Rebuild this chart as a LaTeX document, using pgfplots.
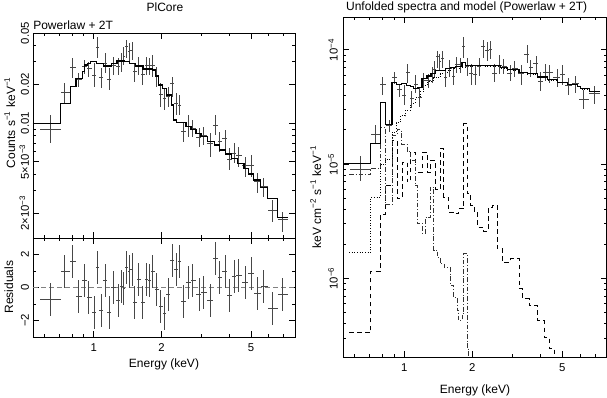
\documentclass[border=0pt]{standalone}
\usepackage{fontspec}
\setmainfont{Liberation Sans}
\usepackage{pgfplots}
\usepackage{pgfplotstable}
\pgfplotsset{compat=1.18}

\newcommand\lbl{\fontsize{9}{11}\selectfont}
\newcommand\tkl{\fontsize{8.5}{10}\selectfont}

% E Elo Ehi : energy bins; C : counts/s/keV; R : residual; F : unfolded flux
\pgfplotstableread{
E     Elo   Ehi   C       Clo     Chi     R      F        Flo      Fhi
0.639 0.577 0.712 0.00893 0.00704 0.01154 -0.71  9.05e-6  7.14e-6  1.170e-5
0.744 0.712 0.783 0.01720 0.01421 0.02056  1.00  1.826e-5 1.509e-5 2.18e-5
0.802 0.783 0.830 0.02705 0.02222 0.03177  1.55  4.93e-5  4.05e-5  5.79e-5
0.858 0.830 0.882 0.02196 0.01915 0.02430 -0.55  2.20e-5  1.92e-5  2.43e-5
0.906 0.882 0.928 0.02771 0.02402 0.03084  0.43  5.77e-5  5.00e-5  6.43e-5
0.950 0.928 0.976 0.02658 0.02289 0.02994 -0.59  4.50e-5  3.88e-5  5.07e-5
1.003 0.976 1.021 0.02345 0.01915 0.02906 -1.53  4.00e-5  3.27e-5  4.96e-5
1.038 1.021 1.056 0.03868 0.03177 0.04626  1.24  6.30e-5  5.18e-5  7.54e-5
1.078 1.056 1.100 0.02262 0.01859 0.02658 -1.41  3.75e-5  3.08e-5  4.40e-5
1.126 1.100 1.149 0.02906 0.02430 0.03474  0.43  5.00e-5  4.18e-5  5.97e-5
1.173 1.149 1.197 0.02183 0.01804 0.02658 -1.51  3.80e-5  3.14e-5  4.63e-5
1.222 1.197 1.251 0.02804 0.02359 0.03273  0.02  5.40e-5  4.55e-5  6.31e-5
1.286 1.251 1.308 0.02771 0.02359 0.03177 -0.76  5.40e-5  4.60e-5  6.19e-5
1.330 1.308 1.344 0.02994 0.02503 0.03474  0.06  6.12e-5  5.12e-5  7.10e-5
1.358 1.344 1.381 0.03313 0.02820 0.03914 -0.04  6.78e-5  5.77e-5  8.01e-5
1.404 1.381 1.419 0.03962 0.03177 0.04410  1.24  8.73e-5  7.00e-5  9.72e-5
1.434 1.419 1.453 0.03579 0.02994 0.04155  0.98  7.90e-5  6.60e-5  9.16e-5
1.478 1.453 1.498 0.03688 0.03084 0.04280  1.08  8.37e-5  7.00e-5  9.73e-5
1.519 1.498 1.550 0.02518 0.02094 0.02906 -0.92  5.72e-5  4.75e-5  6.60e-5
1.587 1.550 1.620 0.02804 0.02359 0.03273  0.51  6.93e-5  5.83e-5  8.10e-5
1.653 1.620 1.682 0.02373 0.01972 0.02738 -0.92  5.88e-5  4.89e-5  6.79e-5
1.710 1.682 1.740 0.02804 0.02359 0.03273  0.47  7.45e-5  6.27e-5  8.70e-5
1.769 1.740 1.800 0.02804 0.02359 0.03177  0.43  7.45e-5  6.27e-5  8.45e-5
1.824 1.800 1.862 0.02804 0.02289 0.03373  0.98  1.06e-4  8.50e-5  1.29e-4
1.894 1.862 1.940 0.02317 0.01915 0.02738 -0.14  7.17e-5  5.92e-5  8.47e-5
1.986 1.940 2.020 0.01670 0.01339 0.02032 -1.16  6.19e-5  4.97e-5  7.54e-5
2.055 2.020 2.097 0.01554 0.01261 0.01859 -1.57  6.12e-5  4.97e-5  7.32e-5
2.140 2.097 2.184 0.01611 0.01339 0.01915 -0.43  7.14e-5  5.94e-5  8.50e-5
2.229 2.184 2.275 0.02032 0.01601 0.02289  1.63  1.079e-4 8.50e-5  1.215e-4
2.322 2.275 2.362 0.01421 0.01154 0.01700  1.12  9.86e-5  8.00e-5  1.179e-4
2.402 2.362 2.451 0.01371 0.01154 0.01650  1.55  9.98e-5  8.40e-5  1.200e-4
2.502 2.451 2.570 0.00856 0.00716 0.01024 -0.86  6.23e-5  5.21e-5  7.45e-5
2.641 2.570 2.696 0.00937 0.00783 0.01154  0.33  7.32e-5  6.12e-5  9.02e-5
2.752 2.696 2.847 0.00909 0.00783 0.01055  0.43  7.11e-5  6.12e-5  8.25e-5
2.944 2.847 3.005 0.00769 0.00655 0.00909 -0.45  6.21e-5  5.29e-5  7.33e-5
3.077 3.005 3.184 0.00807 0.00675 0.00937 -0.31  6.91e-5  5.78e-5  8.03e-5
3.305 3.184 3.396 0.00695 0.00548 0.00831 -0.80  6.20e-5  4.89e-5  7.42e-5
3.490 3.396 3.549 0.00965 0.00807 0.01154  1.73  9.14e-5  7.64e-5  1.093e-4
3.610 3.549 3.722 0.00725 0.00599 0.00856  0.63  6.97e-5  5.83e-5  8.09e-5
3.838 3.722 3.917 0.00760 0.00617 0.00882  0.98  7.63e-5  6.19e-5  8.85e-5
3.998 3.917 4.108 0.00522 0.00432 0.00636 -0.47  5.25e-5  4.34e-5  6.39e-5
4.221 4.108 4.308 0.00581 0.00486 0.00695  0.67  6.32e-5  5.29e-5  7.55e-5
4.397 4.308 4.564 0.00564 0.00458 0.00655  0.71  6.36e-5  5.16e-5  7.38e-5
4.737 4.564 4.867 0.00466 0.00383 0.00548  0.31  5.75e-5  4.72e-5  6.75e-5
5.001 4.867 5.157 0.00466 0.00383 0.00564  0.84  6.06e-5  4.97e-5  7.33e-5
5.335 5.157 5.519 0.00350 0.00284 0.00407 -0.35  4.85e-5  4.05e-5  5.62e-5
5.710 5.519 5.948 0.00320 0.00268 0.00372  0.06  5.05e-5  4.22e-5  5.86e-5
6.216 5.948 6.563 0.00209 0.00171 0.00252 -1.27  3.67e-5  3.01e-5  4.44e-5
6.930 6.563 7.317 0.00177 0.00143 0.00205 -0.41  4.13e-5  3.35e-5  4.79e-5
}\specdata

% folded model (left), bin start / value
\pgfplotstableread{
E     M
0.536 0.00994
0.712 0.01421
0.789 0.01915
0.833 0.02222
0.888 0.02503
0.912 0.02820
0.934 0.02906
0.967 0.02994
1.028 0.02906
1.100 0.02771
1.197 0.02906
1.268 0.03030
1.371 0.02994
1.443 0.02906
1.534 0.02771
1.653 0.02626
1.830 0.02579
1.880 0.02317
1.932 0.01972
2.013 0.01859
2.097 0.01650
2.207 0.01380
2.259 0.01055
2.337 0.01006
2.570 0.00937
2.705 0.00893
2.847 0.00831
2.995 0.00783
3.206 0.00716
3.431 0.00675
3.610 0.00617
3.864 0.00575
4.108 0.00532
4.351 0.00486
4.658 0.00445
4.867 0.00402
5.121 0.00361
5.519 0.00317
5.907 0.00260
6.541 0.00185
7.317 0.00185
}\foldmodel

% unfolded total model
\pgfplotstableread{
E     M
0.536 1.008e-5
0.712 1.509e-5
0.783 3.49e-5
0.824 2.227e-5
0.882 5.22e-5
0.922 4.95e-5
0.976 5.10e-5
1.021 4.85e-5
1.063 4.75e-5
1.100 4.60e-5
1.149 4.65e-5
1.198 5.60e-5
1.261 5.90e-5
1.313 6.20e-5
1.372 6.60e-5
1.453 6.60e-5
1.520 6.90e-5
1.600 7.05e-5
1.684 7.20e-5
1.800 7.80e-5
1.862 7.30e-5
1.962 7.32e-5
2.666 6.98e-5
2.854 6.71e-5
3.213 6.39e-5
3.500 6.19e-5
3.877 5.78e-5
4.295 5.48e-5
4.756 5.22e-5
5.267 4.99e-5
5.834 4.79e-5
6.033 4.57e-5
6.566 4.33e-5
7.317 4.33e-5
}\ufmodel

% powerlaw component
\pgfplotstableread{
E     M
0.570 1.69e-6
0.712 5.14e-6
0.783 1.0e-5
0.824 1.1e-5
0.882 1.90e-5
0.922 2.30e-5
0.960 2.65e-5
1.010 2.95e-5
1.063 3.40e-5
1.119 3.80e-5
1.178 4.30e-5
1.218 4.90e-5
1.261 5.30e-5
1.349 5.70e-5
1.444 6.20e-5
1.546 6.55e-5
1.654 6.84e-5
1.771 7.07e-5
1.897 7.17e-5
2.029 7.27e-5
2.240 7.20e-5
2.666 6.90e-5
2.854 6.65e-5
3.213 6.33e-5
3.500 6.14e-5
3.877 5.74e-5
4.295 5.44e-5
4.756 5.19e-5
5.267 4.97e-5
5.834 4.77e-5
6.033 4.55e-5
6.566 4.31e-5
7.317 4.31e-5
}\plcomp

% hot thermal component
\pgfplotstableread{
E     M
0.570 3.36e-7
0.712 1.156e-6
0.783 3.63e-6
0.824 6.5e-6
0.882 1.60e-5
0.930 5.0e-6
0.980 1.04e-5
1.028 7.0e-6
1.063 1.274e-5
1.119 8.51e-6
1.198 1.274e-5
1.261 8.51e-6
1.304 1.077e-5
1.372 6.0e-6
1.444 1.364e-5
1.494 5.14e-6
1.570 3.80e-6
1.654 3.70e-6
1.741 4.07e-6
1.832 2.258e-5
1.897 5.51e-6
1.960 4.35e-6
2.040 3.80e-6
2.101 2.81e-6
2.247 2.60e-6
2.365 4.20e-6
2.448 4.35e-6
2.577 1.816e-6
2.713 1.386e-6
2.952 1.485e-6
3.213 8.11e-7
3.327 6.63e-7
3.558 5.79e-7
3.877 4.28e-7
4.148 3.06e-7
4.364 2.42e-7
4.593 1.56e-7
4.918 1.56e-7
}\hotcomp

% cool thermal component
\pgfplotstableread{
E     M
0.570 8.13e-6
0.712 9.17e-6
0.783 2.1e-5
0.824 4.4e-6
0.882 1.80e-5
0.928 2.0e-5
0.970 1.5e-5
1.028 1.3e-5
1.063 1.077e-5
1.119 6.51e-6
1.140 3.05e-6
1.198 2.50e-6
1.240 3.40e-6
1.300 6.30e-6
1.349 1.77e-6
1.400 1.53e-6
1.444 1.34e-6
1.500 1.25e-6
1.600 8.67e-7
1.654 6.80e-7
1.713 5.24e-7
1.741 4.28e-7
1.803 4.93e-7
1.832 1.652e-6
1.897 2.48e-7
1.928 1.56e-7
1.982 1.56e-7
}\coolcomp

\begin{document}
\begin{tikzpicture}
% left: folded spectrum
\begin{loglogaxis}[
  scale only axis,
  at={(24.75pt,-24.75pt)}, anchor=north west,
  width=196.5pt, height=153.75pt,
  xmin=0.536, xmax=7.85, ymin=0.00128, ymax=0.05,
  tick align=inside, major tick length=4.5pt, minor tick length=2.3pt,
  axis line style={line width=0.7pt},
  every tick/.append style={black, line width=0.6pt},
  xtick={1,2,5}, minor xtick={0.6,0.7,0.8,0.9,3,4,6,7},
  xticklabels={},
  ytick={0.002,0.005,0.01,0.02,0.05},
  yticklabels={2×10\textsuperscript{−3},5×10\textsuperscript{−3},0.01,0.02,0.05},
  minor ytick={0.003,0.004,0.006,0.007,0.008,0.009,0.03,0.04},
  tick label style={font=\tkl},
  yticklabel style={xshift=-3pt, rotate=90, anchor=base},
]
\addplot[only marks, mark=*, mark size=0pt, mark options={draw opacity=0, fill opacity=0},
  error bars/x dir=both, error bars/x explicit,
  error bars/y dir=both, error bars/y explicit,
  error bars/error mark=none,
  error bars/error bar style={black!72, line width=0.75pt}]
  table[x=E, y=C,
  x error plus expr=\thisrow{Ehi}-\thisrow{E},
  x error minus expr=\thisrow{E}-\thisrow{Elo},
  y error plus expr=\thisrow{Chi}-\thisrow{C},
  y error minus expr=\thisrow{C}-\thisrow{Clo}] {\specdata};
\addplot[const plot, black, line width=0.9pt] table[x=E, y=M] {\foldmodel};
\end{loglogaxis}

% left: residuals
\begin{semilogxaxis}[
  scale only axis,
  at={(24.75pt,-178.5pt)}, anchor=north west,
  width=196.5pt, height=74.25pt,
  xmin=0.536, xmax=7.85, ymin=-3, ymax=3,
  tick align=inside, major tick length=4.5pt, minor tick length=2.3pt,
  axis line style={line width=0.7pt},
  every tick/.append style={black, line width=0.6pt},
  xtick={1,2,5}, minor xtick={0.6,0.7,0.8,0.9,3,4,6,7},
  xticklabels={1,2,5},
  ytick={-2,0,2}, yticklabels={−2,0,2},
  minor ytick={-3,-1,1,3},
  tick label style={font=\tkl},
  yticklabel style={xshift=-3pt, rotate=90, anchor=base},
  xticklabel style={yshift=-1.5pt},
]
\addplot[gray, line width=0.8pt, dash pattern=on 3.5pt off 2.5pt] coordinates {(0.536,0) (7.85,0)};
\addplot[only marks, mark=*, mark size=0pt, mark options={draw opacity=0, fill opacity=0},
  error bars/x dir=both, error bars/x explicit,
  error bars/y dir=both, error bars/y explicit,
  error bars/error mark=none,
  error bars/error bar style={black!72, line width=0.75pt}]
  table[x=E, y=R,
  x error plus expr=\thisrow{Ehi}-\thisrow{E},
  x error minus expr=\thisrow{E}-\thisrow{Elo},
  y error expr=1] {\specdata};
\end{semilogxaxis}

% right: unfolded spectrum
\begin{loglogaxis}[
  scale only axis,
  at={(257.25pt,-12.75pt)}, anchor=north west,
  width=197.75pt, height=255pt,
  xmin=0.536, xmax=7.85, ymin=2.05e-7, ymax=1.94e-4,
  tick align=inside, major tick length=4.5pt, minor tick length=2.3pt,
  axis line style={line width=0.7pt},
  every tick/.append style={black, line width=0.6pt},
  xtick={1,2,5}, minor xtick={0.6,0.7,0.8,0.9,3,4,6,7},
  xticklabels={1,2,5},
  ytick={1e-6,1e-5,1e-4},
  yticklabels={10\textsuperscript{−6},10\textsuperscript{−5},10\textsuperscript{−4}},
  minor ytick={3e-7,4e-7,5e-7,6e-7,7e-7,8e-7,9e-7,2e-6,3e-6,4e-6,5e-6,6e-6,7e-6,8e-6,9e-6,2e-5,3e-5,4e-5,5e-5,6e-5,7e-5,8e-5,9e-5},
  tick label style={font=\tkl},
  yticklabel style={xshift=-4pt, rotate=90, anchor=base},
  xticklabel style={yshift=-1.5pt},
]
\addplot[const plot, black, line width=0.6pt, dash pattern=on 3.5pt off 2.5pt] table[x=E, y=M] {\hotcomp};
\addplot[const plot, black!80, line width=0.6pt, dash pattern=on 3.5pt off 1.5pt on 0.6pt off 1.5pt] table[x=E, y=M] {\coolcomp};
\addplot[const plot, black, line width=0.6pt, dash pattern=on 0.6pt off 1.4pt] table[x=E, y=M] {\plcomp};
\addplot[only marks, mark=*, mark size=0pt, mark options={draw opacity=0, fill opacity=0},
  error bars/x dir=both, error bars/x explicit,
  error bars/y dir=both, error bars/y explicit,
  error bars/error mark=none,
  error bars/error bar style={black!72, line width=0.75pt}]
  table[x=E, y=F,
  x error plus expr=\thisrow{Ehi}-\thisrow{E},
  x error minus expr=\thisrow{E}-\thisrow{Elo},
  y error plus expr=\thisrow{Fhi}-\thisrow{F},
  y error minus expr=\thisrow{F}-\thisrow{Flo}] {\specdata};
\addplot[const plot, black, line width=0.9pt] table[x=E, y=M] {\ufmodel};
\end{loglogaxis}

\node[font=\lbl] at (123.75pt,-5.5pt) {PlCore};
\node[font=\lbl, anchor=west, inner sep=0pt] at (24.75pt,-18.75pt) {Powerlaw + 2T};
\node[font=\lbl] at (350pt,-5.5pt) {Unfolded spectra and model (Powerlaw + 2T)};
\node[font=\lbl, rotate=90, anchor=base] at (11.25pt,-92pt) {Counts s\textsuperscript{−1} keV\textsuperscript{−1}};
\node[font=\lbl, rotate=90, anchor=base] at (9.75pt,-215.25pt) {Residuals};
\node[font=\lbl, rotate=90, anchor=base] at (240.75pt,-147.75pt) {keV cm\textsuperscript{−2} s\textsuperscript{−1} keV\textsuperscript{−1}};
\node[font=\lbl] at (123pt,-273pt) {Energy (keV)};
\node[font=\lbl] at (356.25pt,-292.5pt) {Energy (keV)};

\pgfresetboundingbox
\path (0pt,0pt) rectangle (455.25pt,-297.75pt);
\end{tikzpicture}
\end{document}
